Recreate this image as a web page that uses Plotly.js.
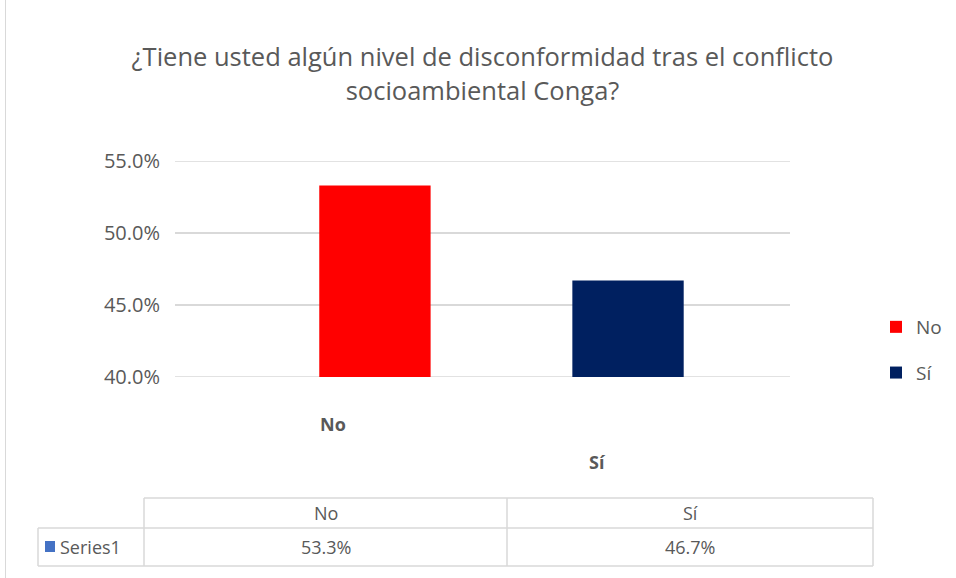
<!DOCTYPE html>
<html>
<head>
<meta charset="utf-8">
<script src="https://cdn.plot.ly/plotly-3.0.1.min.js"></script>
<style>
body{margin:0;padding:0;background:#fff;}
#wrap{position:relative;width:956px;height:578px;}
#frame{position:absolute;left:5px;top:0;width:950px;height:578px;border-left:1px solid #d9d9d9;box-sizing:border-box;pointer-events:none;}
#chart{position:absolute;left:0;top:0;width:956px;height:578px;}
</style>
</head>
<body>
<div id="wrap"><div id="chart"></div><div id="frame"></div></div>
<script>
const categories = ['No', 'Sí'];
const values = [0.533, 0.467];
const colors = ['#FF0000', '#002060'];
const seriesName = 'Series1';
const yTicks = [0.40, 0.45, 0.50, 0.55];
const titleText = '¿Tiene usted algún nivel de disconformidad tras el conflicto<br>socioambiental Conga?';

const W = 956, H = 578;
const M = {l: 175, r: 166, t: 161, b: 201};
const pw = W - M.l - M.r, ph = H - M.t - M.b;
const px = x => (x - M.l) / pw;
const py = y => (H - M.b - y) / ph;

const traces = categories.map((c, i) => ({
  type: 'bar',
  x: [c],
  y: [values[i]],
  name: c,
  legendgroup: 'g' + i,
  width: 0.44,
  marker: {color: colors[i]},
  hoverinfo: 'skip'
}));

const grey = '#595959';
const lineCol = '#d9d9d9';
const font = 'Open Sans, Liberation Sans, sans-serif';

const shapes = [];
// edge gridlines (40% and 55%)
[yTicks[0], yTicks[yTicks.length - 1]].forEach(v => shapes.push({type: 'line', xref: 'paper', yref: 'y',
  x0: 0, x1: 1, y0: v, y1: v, layer: 'below', line: {color: lineCol, width: 1.5}}));

// data table drawn below the plot
const colX = [38, 144, 507, 873];
const rowY = [498, 528, 566];
const L = (x0, y0, x1, y1) => shapes.push({type: 'line', xref: 'paper', yref: 'paper',
  x0: px(x0), y0: py(y0), x1: px(x1), y1: py(y1), line: {color: lineCol, width: 1.5}});
L(colX[1], rowY[0], colX[3], rowY[0]);
L(colX[0], rowY[1], colX[3], rowY[1]);
L(colX[0], rowY[2], colX[3], rowY[2]);
L(colX[0], rowY[1], colX[0], rowY[2]);
L(colX[1], rowY[0], colX[1], rowY[2]);
L(colX[2], rowY[0], colX[2], rowY[2]);
L(colX[3], rowY[0], colX[3], rowY[2]);
shapes.push({type: 'rect', xref: 'paper', yref: 'paper',
  x0: px(45), x1: px(55), y0: py(552), y1: py(541),
  fillcolor: '#4472C4', line: {width: 0}});

const annotations = [];
const A = (text, x, y, xanchor) => annotations.push({text, xref: 'paper', yref: 'paper',
  x: px(x), y: py(y), xanchor: xanchor || 'center', yanchor: 'middle', showarrow: false,
  font: {family: font, size: 18, color: grey}});
categories.forEach((c, i) => {
  const cx = (colX[i + 1] + colX[i + 2]) / 2;
  A(c, cx, 513);
  A((values[i] * 100).toFixed(1) + '%', cx, 547);
});
A(seriesName, 58, 547, 'left');

// category labels (offset as in the 3D perspective of the original)
const catLabelY = [424, 462];
const catShift = [-42, -31];
categories.forEach((c, i) => annotations.push({text: '<b>' + c + '</b>', xref: 'x', yref: 'paper',
  x: c, y: py(catLabelY[i]), xshift: catShift[i], xanchor: 'center', yanchor: 'middle', showarrow: false,
  font: {family: font, size: 18, color: grey}}));

const layout = {
  width: W, height: H,
  margin: M,
  paper_bgcolor: '#fff', plot_bgcolor: '#fff',
  title: {text: titleText, x: 0.5, xref: 'paper', xanchor: 'center', y: 0.885, yanchor: 'middle',
    font: {family: font, size: 25.5, color: grey}},
  barmode: 'overlay',
  showlegend: true,
  legend: {xref: 'container', yref: 'container', x: 876 / W, y: 1 - 308 / H, xanchor: 'left', yanchor: 'top',
    font: {family: font, size: 19, color: grey}, tracegroupgap: 18, itemwidth: 30},
  xaxis: {range: [-0.79, 1.64], showgrid: false, zeroline: false, showline: false,
    ticks: '', showticklabels: false, fixedrange: true},
  yaxis: {range: [0.40, 0.55], tickvals: yTicks, tickformat: '.1%', showgrid: true, gridcolor: lineCol,
    gridwidth: 1.5, zeroline: false, showline: false, ticks: '', ticklabelstandoff: 14,
    tickfont: {family: font, size: 20, color: grey}, fixedrange: true},
  shapes, annotations
};

Plotly.newPlot('chart', traces, layout, {displayModeBar: false, staticPlot: true});
</script>
</body>
</html>
